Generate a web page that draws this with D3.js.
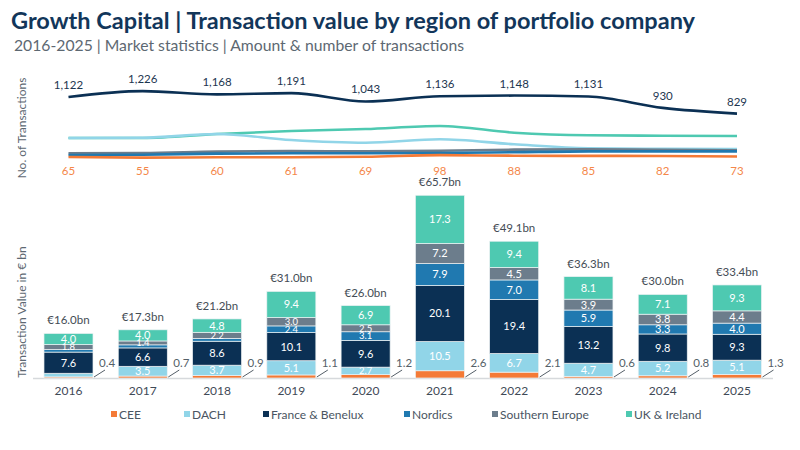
<!DOCTYPE html>
<html>
<head>
<meta charset="utf-8">
<script src="https://cdn.jsdelivr.net/npm/d3@7/dist/d3.min.js"></script>
<style>
  html, body { margin: 0; padding: 0; background: #fff; }
  svg { display: block; font-family: Lato, "Open Sans", sans-serif; }
</style>
</head>
<body>
<svg id="chart" width="800" height="450"></svg>
<script>
// ---------- DATA ----------
const years = ["2016","2017","2018","2019","2020","2021","2022","2023","2024","2025"];
const regions = ["CEE","DACH","France & Benelux","Nordics","Southern Europe","UK & Ireland"];

// Transaction value (EUR bn)
const valCEE      = [0.4, 0.7, 0.9, 1.1, 1.2, 2.6, 2.1, 0.6, 0.8, 1.3];
const valDACH     = [1.3, 3.5, 3.7, 5.1, 2.7, 10.5, 6.7, 4.7, 5.2, 5.1];
const valFB       = [7.6, 6.6, 8.6, 10.1, 9.6, 20.1, 19.4, 13.2, 9.8, 9.3];
const valNordics  = [0.9, 1.1, 1.0, 2.4, 3.1, 7.9, 7.0, 5.9, 3.3, 4.0];
const valSE       = [1.8, 1.4, 2.2, 3.0, 2.5, 7.2, 4.5, 3.9, 3.8, 4.4];
const valUK       = [4.0, 4.0, 4.8, 9.4, 6.9, 17.3, 9.4, 8.1, 7.1, 9.3];
const valTotals   = [16.0, 17.3, 21.2, 31.0, 26.0, 65.7, 49.1, 36.3, 30.0, 33.4];

// Number of transactions
const cntCEE      = [65, 55, 60, 61, 69, 98, 88, 85, 82, 73];
const cntDACH     = [400, 405, 470, 364, 317, 377, 289, 220, 210, 205];
const cntFB       = [1122, 1226, 1168, 1191, 1043, 1136, 1148, 1131, 930, 829];
const cntNordics  = [100, 105, 125, 130, 130, 135, 150, 165, 165, 165];
const cntSE       = [130, 135, 160, 170, 165, 175, 195, 200, 190, 185];
const cntUK       = [400, 400, 470, 523, 558, 611, 493, 447, 440, 435];

const colors = {
  "CEE": "#f47a36",
  "DACH": "#91d5e8",
  "France & Benelux": "#0b3054",
  "Nordics": "#2079b0",
  "Southern Europe": "#6c7d8c",
  "UK & Ireland": "#4ec9b1"
};

// ---------- SETUP ----------
const svg = d3.select("#chart");

// Title & subtitle
svg.append("text").attr("x", 11).attr("y", 29)
  .attr("font-size", 22).attr("font-weight", 700).attr("fill", "#12365a")
  .attr("textLength", 684).attr("lengthAdjust", "spacingAndGlyphs")
  .text("Growth Capital | Transaction value by region of portfolio company");
svg.append("text").attr("x", 14).attr("y", 51)
  .attr("font-size", 15).attr("fill", "#5d6872")
  .attr("textLength", 450).attr("lengthAdjust", "spacingAndGlyphs")
  .text("2016-2025 | Market statistics | Amount & number of transactions");

// Axis titles
svg.append("text").attr("transform", "translate(26,128) rotate(-90)")
  .attr("text-anchor", "middle").attr("font-size", 12).attr("fill", "#5d6872")
  .text("No. of Transactions");
svg.append("text").attr("transform", "translate(26,312) rotate(-90)")
  .attr("text-anchor", "middle").attr("font-size", 12).attr("fill", "#5d6872")
  .text("Transaction Value in € bn");

// Scales
const x = d3.scaleBand().domain(years).range([31.35, 774.15]).paddingInner(0.34).paddingOuter(0.17);
const cx = d => x(d) + x.bandwidth() / 2;
const yBar = d3.scaleLinear().domain([0, 70]).range([378, 183]);
const yLine = d3.scaleLinear().domain([0, 1300]).range([160.7, 86.9]);

// ---------- BARS ----------
const valueSeries = [valCEE, valDACH, valFB, valNordics, valSE, valUK];
const table = years.map((yr, i) => {
  const row = { year: yr };
  regions.forEach((r, k) => row[r] = valueSeries[k][i]);
  return row;
});
const stack = d3.stack().keys(regions)(table);

// baseline
svg.append("line").attr("x1", 33).attr("x2", 773)
  .attr("y1", yBar(0) + 0.5).attr("y2", yBar(0) + 0.5)
  .attr("stroke", "#d6d9dc").attr("stroke-width", 1.5);

const layers = svg.append("g").selectAll("g").data(stack).join("g")
  .attr("fill", d => colors[d.key]);
layers.selectAll("rect").data(d => d).join("rect")
  .attr("x", d => x(d.data.year))
  .attr("width", x.bandwidth())
  .attr("y", d => yBar(d[1]))
  .attr("height", d => yBar(d[0]) - yBar(d[1]))
  .attr("stroke", "#eef3f4").attr("stroke-width", 0.7);

// segment labels (inside, except CEE)
stack.forEach(layer => {
  if (layer.key === "CEE") return;
  layer.forEach(d => {
    const v = d.data[layer.key];
    if (v < 1.4) return;
    const h = yBar(d[0]) - yBar(d[1]);
    const fs = h < 9 ? 9.5 : 11;
    svg.append("text")
      .attr("x", cx(d.data.year))
      .attr("y", (yBar(d[0]) + yBar(d[1])) / 2 + fs * 0.36)
      .attr("text-anchor", "middle").attr("font-size", fs)
      .attr("fill", "#ffffff")
      .text(d3.format(".1f")(v));
  });
});

// CEE callouts
years.forEach((yr, i) => {
  const right = x(yr) + x.bandwidth();
  svg.append("line")
    .attr("x1", right + 1).attr("y1", yBar(0) - 1)
    .attr("x2", right + 12).attr("y2", yBar(0) - 8)
    .attr("stroke", "#555f68").attr("stroke-width", 1);
  svg.append("text").attr("x", right + 6).attr("y", yBar(0) - 11)
    .attr("font-size", 11.5).attr("fill", "#555f68")
    .text(d3.format(".1f")(valCEE[i]));
});

// totals
const topStack = stack[stack.length - 1];
topStack.forEach((d, i) => {
  svg.append("text").attr("x", cx(d.data.year)).attr("y", yBar(d[1]) - 9)
    .attr("text-anchor", "middle").attr("font-size", 11.5).attr("fill", "#444c55")
    .text("€" + d3.format(".1f")(valTotals[i]) + "bn");
});

// year axis labels
const xAxis = d3.axisBottom(x).tickSize(0).tickPadding(0);
const gx = svg.append("g").attr("transform", "translate(0,386)").call(xAxis);
gx.select(".domain").remove();
gx.selectAll("text").attr("font-size", 12).attr("fill", "#3f4a57")
  .attr("font-family", "Lato, sans-serif").attr("dy", "0.71em");

// ---------- LINES ----------
const lineSeries = [
  ["UK & Ireland", cntUK],
  ["DACH", cntDACH],
  ["Southern Europe", cntSE],
  ["Nordics", cntNordics],
  ["CEE", cntCEE],
  ["France & Benelux", cntFB]
];
const lineGen = d3.line()
  .x((d, i) => cx(years[i]))
  .y(d => yLine(d))
  .curve(d3.curveMonotoneX);
lineSeries.forEach(([name, vals]) => {
  svg.append("path").datum(vals)
    .attr("fill", "none")
    .attr("stroke", colors[name])
    .attr("stroke-width", 2.6)
    .attr("stroke-linejoin", "round")
    .attr("d", lineGen);
});

// FB labels
cntFB.forEach((v, i) => {
  svg.append("text").attr("x", cx(years[i])).attr("y", yLine(v) - 8)
    .attr("text-anchor", "middle").attr("font-size", 11.5).attr("fill", "#1d3650")
    .text(d3.format(",")(v));
});
// CEE labels
cntCEE.forEach((v, i) => {
  svg.append("text").attr("x", cx(years[i])).attr("y", 175)
    .attr("text-anchor", "middle").attr("font-size", 11.5).attr("fill", "#f4874a")
    .text(v);
});

// ---------- LEGEND ----------
const legendX = [111, 184, 263, 404, 492, 626];
const lg = svg.append("g");
regions.forEach((r, i) => {
  lg.append("rect").attr("x", legendX[i]).attr("y", 411).attr("width", 6).attr("height", 6)
    .attr("fill", colors[r]);
  lg.append("text").attr("x", legendX[i] + 8).attr("y", 419)
    .attr("font-size", 12).attr("fill", "#4a5562").text(r);
});
</script>
</body>
</html>
